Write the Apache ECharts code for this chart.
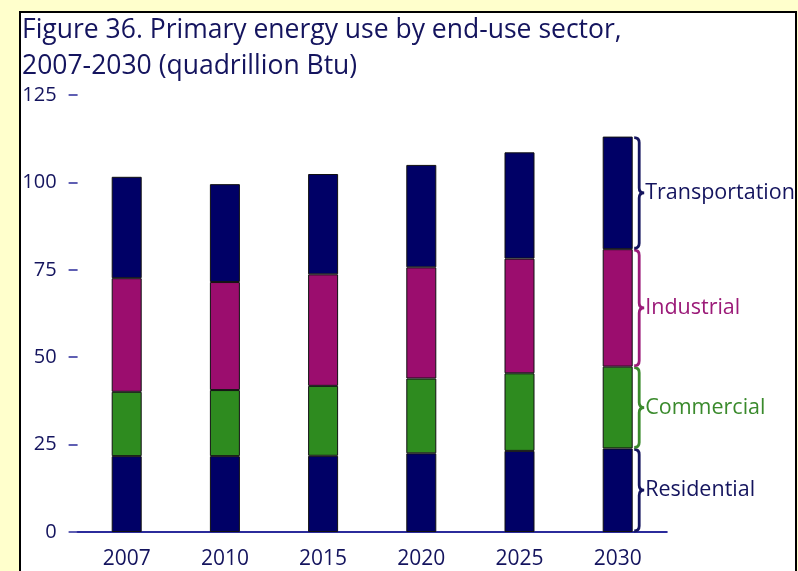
<!DOCTYPE html>
<html><head><meta charset="utf-8">
<script src="https://cdn.jsdelivr.net/npm/echarts@6/dist/echarts.min.js"></script>
<style>html,body{margin:0;padding:0;background:#FFFFCC;}#c{width:798px;height:571px;}</style>
</head><body><div id="c"></div>
<script>
var years = ['2007','2010','2015','2020','2025','2030'];
var residential    = [21.7, 21.7, 21.8, 22.5, 23.2, 23.9];
var commercial     = [18.4, 18.9, 20.0, 21.4, 22.2, 23.4];
var industrial     = [32.5, 30.9, 31.9, 31.8, 32.8, 33.6];
var transportation = [29.0, 28.0, 28.7, 29.3, 30.4, 32.2];
var sectorNames  = ['Residential','Commercial','Industrial','Transportation'];
var sectorColors = ['#000066','#2E8B1F','#9B0D6E','#000066'];
var labelColors  = ['#14145E','#3A8A2C','#9B1A78','#14145E'];
var yTicks = [0, 25, 50, 75, 100, 125];
var FONT = '"Open Sans", sans-serif';
var BARW = 30;

var allSeries = [residential, commercial, industrial, transportation];
var last = years.length - 1;
var braceData = [];
var cum = 0;
for (var i = 0; i < allSeries.length; i++) {
  var v = allSeries[i][last];
  braceData.push([last, cum, cum + v, i]);
  cum += v;
}

var chart = echarts.init(document.getElementById('c'), null, {renderer: 'canvas'});
var series = sectorNames.map(function (n, i) {
  return {
    name: n, type: 'bar', stack: 'total', data: allSeries[i], barWidth: BARW,
    itemStyle: {color: sectorColors[i], borderColor: '#111', borderWidth: 1},
    emphasis: {disabled: true}, animation: false
  };
});
series.push({
  type: 'custom', data: braceData, animation: false, silent: true, z: 5,
  renderItem: function (params, api) {
    var pb = api.coord([api.value(0), api.value(1)]);
    var pt = api.coord([api.value(0), api.value(2)]);
    var idx = api.value(3);
    var x = pb[0] + BARW / 2 + 1.5;
    var yt = pt[1] + 1, yb = pb[1] - 1, ym = (yt + yb) / 2;
    var r = 5, xv = x + 5, xt = x + 10;
    var d = 'M' + x + ',' + yt +
      ' Q' + xv + ',' + yt + ' ' + xv + ',' + (yt + r) +
      ' L' + xv + ',' + (ym - r) +
      ' Q' + xv + ',' + ym + ' ' + xt + ',' + ym +
      ' Q' + xv + ',' + ym + ' ' + xv + ',' + (ym + r) +
      ' L' + xv + ',' + (yb - r) +
      ' Q' + xv + ',' + yb + ' ' + x + ',' + yb;
    return {
      type: 'group',
      children: [
        {type: 'path', shape: {pathData: d}, style: {fill: null, stroke: labelColors[idx], lineWidth: 2.8}},
        {type: 'text', style: {x: xt + 1, y: ym, text: sectorNames[idx], fill: labelColors[idx],
          font: '21.5px ' + FONT, verticalAlign: 'middle', align: 'left'}}
      ]
    };
  }
});

chart.setOption({
  backgroundColor: '#FFFFCC',
  animation: false,
  graphic: [{type: 'rect', shape: {x: 20, y: 12, width: 776, height: 570},
    style: {fill: '#FFFFFF', stroke: '#000000', lineWidth: 2}, z: -10, silent: true}],
  title: {
    text: 'Figure 36. Primary energy use by end-use sector,\n2007-2030 (quadrillion Btu)',
    left: 17, top: 7,
    textStyle: {color: '#14145E', fontFamily: FONT, fontSize: 26.5, fontWeight: 'normal', lineHeight: 36}
  },
  grid: {left: 77.6, width: 589.2, top: 95, height: 437, containLabel: false},
  xAxis: {
    type: 'category', data: years, boundaryGap: true,
    axisLine: {show: true, lineStyle: {color: '#2B2B9B', width: 2}},
    axisTick: {show: false},
    axisLabel: {color: '#14145E', fontFamily: FONT, fontSize: 21, margin: 17}
  },
  yAxis: {
    type: 'value', min: 0, max: 125, interval: 25,
    axisLine: {show: false},
    axisTick: {show: true, inside: false, length: 9, lineStyle: {color: '#2B2B9B', width: 1.5}},
    splitLine: {show: false},
    axisLabel: {color: '#14145E', fontFamily: FONT, fontSize: 20, margin: 21,
      formatter: function (v) { return yTicks.indexOf(v) >= 0 ? String(v) : ''; }}
  },
  series: series
});
</script></body></html>
